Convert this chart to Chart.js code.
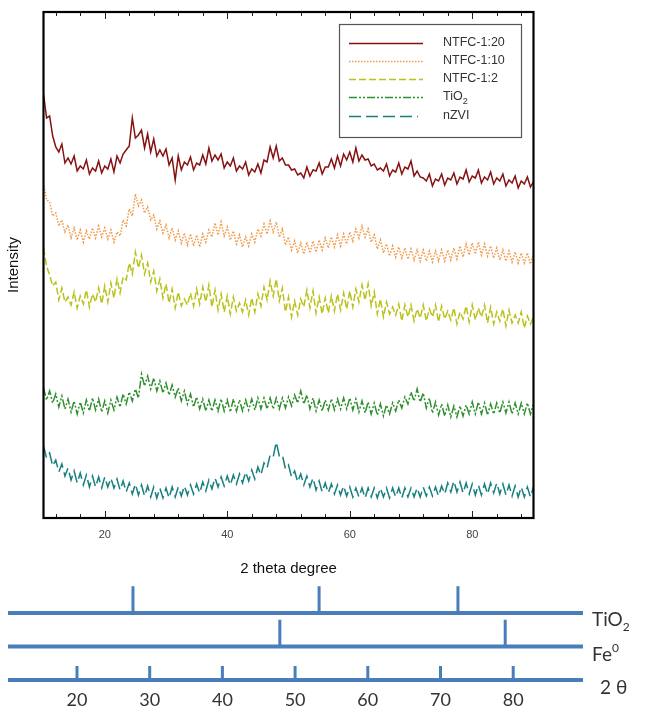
<!DOCTYPE html>
<html>
<head>
<meta charset="utf-8">
<script src="https://cdn.jsdelivr.net/npm/chart.js@4.4.1/dist/chart.umd.min.js"></script>
<style>
  body { margin: 0; background: #fff; width: 655px; height: 714px; position: relative; overflow: hidden; }
  #xrd { position: absolute; left: 0; top: 0; }
  #ref { position: absolute; left: 0; top: 578px; }
</style>
</head>
<body>
<canvas id="xrd" width="655" height="578"></canvas>
<canvas id="ref" width="655" height="136"></canvas>
<script>
// 2 theta grid, 0.5 degree steps from 10 to 90
const twoTheta = Array.from({length: 161}, (_, i) => 10 + i * 0.5);

// intensities (a.u., stacked offsets as in the figure)
const ntfc20 = [
  424,400,402,382,371,366,374,355,360,354,362,347,352,349,358,344,350,347,357,345,
  352,349,359,346,362,355,364,368,372,400,380,383,388,370,384,366,379,362,368,362,
  369,353,360,338,362,348,356,353,361,348,355,353,363,354,370,357,363,358,364,350,
  356,352,360,347,352,349,356,343,349,346,354,345,358,356,371,360,372,357,360,353,
  353,348,349,343,345,340,351,342,348,347,355,344,351,351,359,350,362,352,364,358,
  366,356,370,357,363,358,359,352,354,348,350,347,354,342,348,346,355,344,351,349,
  357,342,347,341,340,337,344,332,339,337,344,333,340,338,345,334,341,339,348,336,
  342,340,348,335,341,338,346,334,340,337,344,332,338,335,342,330,337,334,341,331,
  336
];
const ntfc10 = [
  335,318,316,302,305,292,298,286,293,280,290,278,288,276,287,279,290,280,292,281,
  290,279,288,276,286,282,298,292,309,302,324,312,318,305,311,298,303,289,297,285,
  293,280,290,278,287,275,285,273,284,272,283,271,284,276,288,281,295,283,296,282,
  291,278,287,274,283,271,281,272,284,276,289,282,294,284,297,286,296,281,289,273,
  281,268,277,265,275,264,276,265,277,266,278,268,280,270,281,271,283,272,284,274,
  286,277,289,280,292,281,289,276,283,269,278,265,274,262,272,261,271,260,270,259,
  269,258,268,257,268,257,267,256,267,257,268,257,268,258,270,259,272,261,274,263,
  275,264,276,263,274,262,272,260,270,258,268,257,267,256,266,255,265,255,265,254,
  264
];
const ntfc2 = [
  270,252,243,232,236,218,230,216,221,213,226,210,222,214,228,211,224,216,230,214,
  232,216,235,220,239,225,241,238,255,244,266,250,263,244,255,236,247,227,239,220,
  234,215,229,210,226,212,219,213,225,212,229,214,231,216,233,211,228,208,224,206,
  222,204,221,207,215,206,218,203,220,206,224,212,231,218,237,222,239,217,230,206,
  221,201,217,203,219,211,228,210,227,205,221,204,220,205,222,207,224,208,225,209,
  227,211,229,216,233,218,234,212,226,204,219,201,216,204,211,203,214,197,213,201,
  213,197,209,200,213,197,209,201,213,196,212,199,207,198,210,194,206,199,212,196,
  213,198,210,201,213,195,211,194,206,197,209,192,208,195,203,195,206,190,202,194,
  201
];
const tio2 = [
  130,118,127,115,124,111,122,109,119,106,117,104,116,105,118,107,120,108,119,106,
  117,105,118,108,121,111,124,114,126,117,129,120,144,132,142,129,140,127,137,125,
  135,123,133,121,130,117,127,114,124,111,121,109,119,107,118,107,118,107,119,107,
  118,106,119,107,118,107,118,108,119,108,120,109,120,109,120,109,120,109,120,110,
  121,112,123,115,127,114,123,109,120,107,118,107,118,108,119,108,119,109,120,109,
  120,108,119,106,117,105,116,104,115,103,114,102,113,104,115,107,118,110,121,114,
  126,117,129,116,125,110,120,105,116,103,114,102,113,101,112,101,112,102,113,104,
  116,104,116,104,115,103,114,104,115,105,116,105,116,104,115,104,115,104,115,104,
  114
];
const nzvi = [
  72,60,65,52,58,46,54,42,50,38,47,35,45,33,43,31,42,31,41,30,
  41,31,40,30,39,28,37,26,35,24,34,23,33,22,32,21,31,20,30,20,
  30,20,31,21,31,22,32,23,33,24,34,25,36,27,38,29,40,31,41,32,
  42,33,43,34,44,35,46,37,48,39,51,43,55,50,63,61,76,62,63,49,
  53,41,47,36,44,33,42,31,40,28,37,26,35,25,34,24,33,23,32,22,
  31,21,30,21,30,20,30,21,30,20,30,21,30,20,30,21,30,20,30,21,
  30,21,30,21,31,22,31,22,31,22,32,24,35,26,37,26,36,25,35,24,
  34,23,33,23,34,24,35,25,35,24,34,23,33,22,32,21,31,21,31,21,
  31
];

const seriesNames = ['NTFC-1:20', 'NTFC-1:10', 'NTFC-1:2', 'TiO2', 'nZVI'];
const xMajorTicks = [20, 40, 60, 80];
const xMinorTicks = [12, 16, 24, 28, 32, 36, 44, 48, 52, 56, 64, 68, 72, 76, 84, 88];

// reference peak positions (bottom panel)
const tio2Peaks = [27.7, 53.3, 72.4];
const fePeaks = [47.9, 78.9];
const scaleTicks = [20, 30, 40, 50, 60, 70, 80];

const FONT = '"Liberation Sans", Arial, sans-serif';

function toPoints(values) {
  return values.map((v, i) => ({x: twoTheta[i], y: v}));
}

const styles = [
  {color: '#861111', dash: []},
  {color: '#f09a4a', dash: [1.5, 1.5]},
  {color: '#b9c21a', dash: [7, 3]},
  {color: '#2f8f2f', dash: [8, 2, 2, 2, 2, 2]},
  {color: '#17807f', dash: [12, 5]}
];

const mainData = [ntfc20, ntfc10, ntfc2, tio2, nzvi];

const framePlugin = {
  id: 'frame',
  afterDatasetsDraw(chart) {
    const ctx = chart.ctx;
    const a = chart.chartArea;
    const xs = chart.scales.x;
    ctx.save();
    // ticks (inward, top and bottom)
    ctx.strokeStyle = '#222';
    ctx.lineWidth = 1;
    const tick = (v, len) => {
      const px = Math.round(xs.getPixelForValue(v)) + 0.5;
      ctx.beginPath();
      ctx.moveTo(px, a.bottom); ctx.lineTo(px, a.bottom - len);
      ctx.moveTo(px, a.top); ctx.lineTo(px, a.top + len);
      ctx.stroke();
    };
    xMinorTicks.forEach(v => tick(v, 4));
    xMajorTicks.forEach(v => tick(v, 7));
    // frame
    ctx.strokeStyle = '#000';
    ctx.lineWidth = 2.2;
    ctx.strokeRect(a.left, a.top, a.right - a.left, a.bottom - a.top);
    // tick labels
    ctx.fillStyle = '#444';
    ctx.font = '11px ' + FONT;
    ctx.textAlign = 'center';
    ctx.textBaseline = 'middle';
    xMajorTicks.forEach(v => ctx.fillText(String(v), xs.getPixelForValue(v), a.bottom + 17));
    // axis titles
    ctx.fillStyle = '#111';
    ctx.font = '15px ' + FONT;
    ctx.fillText('2 theta degree', (a.left + a.right) / 2, a.bottom + 51);
    ctx.save();
    ctx.translate(14, (a.top + a.bottom) / 2);
    ctx.rotate(-Math.PI / 2);
    ctx.fillText('Intensity', 0, 0);
    ctx.restore();
    // legend box
    ctx.fillStyle = '#fff';
    ctx.fillRect(339.5, 24.5, 182, 113);
    ctx.strokeStyle = '#555';
    ctx.lineWidth = 1.2;
    ctx.strokeRect(339.5, 24.5, 182, 113);
    const rows = [43, 61, 79, 97, 116];
    ctx.font = '12.5px ' + FONT;
    ctx.textAlign = 'left';
    seriesNames.forEach((name, i) => {
      const y = rows[i];
      ctx.strokeStyle = styles[i].color;
      ctx.lineWidth = 1.4;
      ctx.setLineDash(styles[i].dash);
      ctx.beginPath();
      ctx.moveTo(349, y + 0.5);
      ctx.lineTo(i === 4 ? 418 : 423, y + 0.5);
      ctx.stroke();
      ctx.setLineDash([]);
      ctx.fillStyle = '#333';
      if (name === 'TiO2') {
        ctx.fillText('TiO', 443, y);
        const w = ctx.measureText('TiO').width;
        ctx.font = '9px ' + FONT;
        ctx.fillText('2', 443 + w, y + 5);
        ctx.font = '12.5px ' + FONT;
      } else {
        ctx.fillText(name, 443, y);
      }
    });
    ctx.restore();
  }
};

new Chart(document.getElementById('xrd'), {
  type: 'line',
  data: {
    datasets: mainData.map((vals, i) => ({
      label: seriesNames[i],
      data: toPoints(vals),
      borderColor: styles[i].color,
      borderDash: styles[i].dash,
      borderWidth: 1.5,
      pointRadius: 0,
      fill: false,
      tension: 0
    }))
  },
  options: {
    responsive: false,
    animation: false,
    layout: {padding: {left: 43.5, top: 12, right: 121.5, bottom: 60}},
    plugins: {legend: {display: false}, tooltip: {enabled: false}},
    scales: {
      x: {type: 'linear', min: 10, max: 90, display: false},
      y: {min: 0, max: 506, display: false}
    }
  },
  plugins: [framePlugin]
});

// bottom reference panel
const X_MIN = 10.51, X_MAX = 89.6;
const BLUE = '#4a7ebb';

function peakSegments(peaks, base, top) {
  const pts = [];
  peaks.forEach(p => {
    pts.push({x: p, y: base}, {x: p, y: top}, {x: p, y: null});
  });
  return pts;
}

const refLabelPlugin = {
  id: 'refLabels',
  afterDatasetsDraw(chart) {
    const ctx = chart.ctx;
    const xs = chart.scales.x, ys = chart.scales.y;
    ctx.save();
    ctx.fillStyle = '#333';
    ctx.textBaseline = 'middle';
    ctx.font = '18px Lato, "Open Sans", sans-serif';
    ctx.textAlign = 'center';
    scaleTicks.forEach(v => ctx.fillText(String(v), xs.getPixelForValue(v), 122));
    ctx.textAlign = 'left';
    ctx.font = '19px Lato, "Open Sans", sans-serif';
    const yT = ys.getPixelForValue(3) + 7;
    ctx.fillText('TiO', 592, yT);
    let w = ctx.measureText('TiO').width;
    ctx.font = '12px Lato, "Open Sans", sans-serif';
    ctx.fillText('2', 592 + w, yT + 7);
    ctx.font = '19px Lato, "Open Sans", sans-serif';
    const yF = ys.getPixelForValue(2) + 8;
    ctx.fillText('Fe', 592, yF);
    w = ctx.measureText('Fe').width;
    ctx.font = '12px Lato, "Open Sans", sans-serif';
    ctx.fillText('0', 592 + w, yF - 6);
    ctx.font = '19px Lato, "Open Sans", sans-serif';
    ctx.fillText('2 \u03b8', 600, ys.getPixelForValue(1) + 8);
    ctx.restore();
  }
};

new Chart(document.getElementById('ref'), {
  type: 'line',
  data: {
    datasets: [
      {data: [{x: X_MIN, y: 3}, {x: X_MAX, y: 3}], borderWidth: 4},
      {data: [{x: X_MIN, y: 2}, {x: X_MAX, y: 2}], borderWidth: 4},
      {data: [{x: X_MIN, y: 1}, {x: X_MAX, y: 1}], borderWidth: 4},
      {data: peakSegments(tio2Peaks, 3, 3.8), borderWidth: 3},
      {data: peakSegments(fePeaks, 2, 2.8), borderWidth: 3},
      {data: peakSegments(scaleTicks, 1, 1.42), borderWidth: 3}
    ].map(d => Object.assign(d, {borderColor: BLUE, pointRadius: 0, spanGaps: false, tension: 0, borderCapStyle: 'butt'}))
  },
  options: {
    responsive: false,
    animation: false,
    layout: {padding: {left: 8, top: 4.85, right: 72, bottom: 30.65}},
    plugins: {legend: {display: false}, tooltip: {enabled: false}},
    scales: {
      x: {type: 'linear', min: X_MIN, max: X_MAX, display: false},
      y: {min: 0.9, max: 3.9, display: false}
    }
  },
  plugins: [refLabelPlugin]
});
</script>
</body>
</html>
